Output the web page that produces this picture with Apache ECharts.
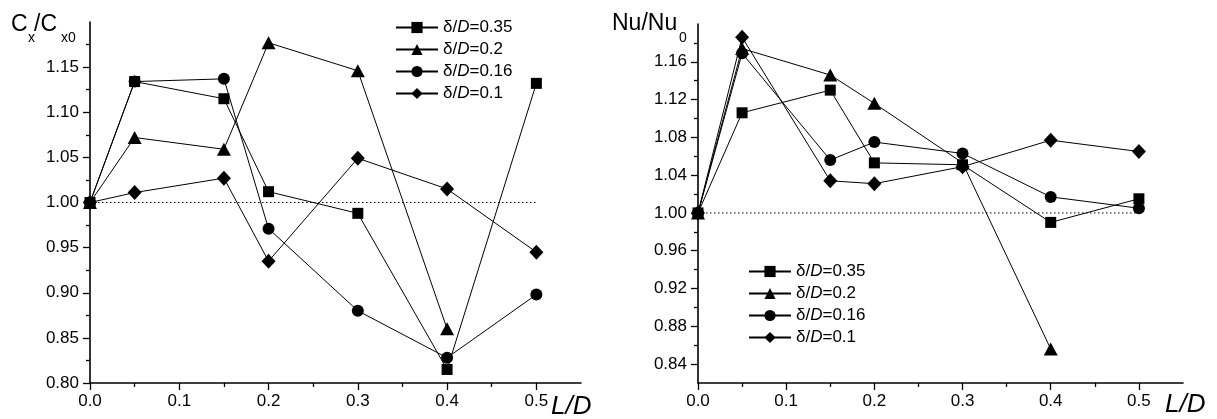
<!DOCTYPE html>
<html>
<head>
<meta charset="utf-8">
<script src="https://cdn.jsdelivr.net/npm/echarts@6/dist/echarts.min.js"></script>
<style>
  html, body { margin: 0; padding: 0; background: #fff; }
  #chart { width: 1217px; height: 419px; }
</style>
</head>
<body>
<div id="chart"></div>
<script>
// L/D positions shared by both panels
var ld = [0, 0.05, 0.15, 0.2, 0.3, 0.4, 0.5];
var names = ['δ/D=0.35', 'δ/D=0.2', 'δ/D=0.16', 'δ/D=0.1'];

// left panel: Cx/Cx0
var cxSquare   = [1.000, 1.134, 1.115, 1.012, 0.988, 0.815, 1.132];
var cxTriangle = [1.000, 1.072, 1.059, 1.177, 1.146, 0.860, null];
var cxCircle   = [1.000, 1.134, 1.137, 0.971, 0.880, 0.828, 0.898];
var cxDiamond  = [1.000, 1.011, 1.027, 0.935, 1.049, 1.015, 0.945];

// right panel: Nu/Nu0
var nuSquare   = [1.000, 1.106, 1.130, 1.053, 1.051, 0.990, 1.015];
var nuTriangle = [1.000, 1.174, 1.146, 1.116, 1.053, 0.856, null];
var nuCircle   = [1.000, 1.169, 1.056, 1.075, 1.063, 1.017, 1.005];
var nuDiamond  = [1.000, 1.186, 1.034, 1.031, 1.049, 1.077, 1.065];

// tick labels
var ldTicks = [0, 0.1, 0.2, 0.3, 0.4, 0.5];
var ldMinor = [0.05, 0.15, 0.25, 0.35, 0.45];
var cxTicks = [0.80, 0.85, 0.90, 0.95, 1.00, 1.05, 1.10, 1.15];
var cxMinor = [0.825, 0.875, 0.925, 0.975, 1.025, 1.075, 1.125, 1.175];
var nuTicks = [0.84, 0.88, 0.92, 0.96, 1.00, 1.04, 1.08, 1.12, 1.16];
var nuMinor = [0.86, 0.90, 0.94, 0.98, 1.02, 1.06, 1.10, 1.14, 1.18];

var FONT = 'Liberation Sans';
var symbols = ['rect', 'triangle', 'circle', 'diamond'];
var sizes = [11, [14, 13], 12, [14, 15]];

function pairs(vals) {
  var out = [];
  for (var i = 0; i < ld.length; i++) {
    if (vals[i] !== null) out.push([ld[i], vals[i]]);
  }
  return out;
}

function markSeries(vals, k, axisIdx) {
  return {
    name: names[k],
    type: 'line',
    xAxisIndex: axisIdx,
    yAxisIndex: axisIdx,
    data: pairs(vals),
    symbol: symbols[k],
    symbolSize: sizes[k],
    showAllSymbol: true,
    z: 10 - k,
    lineStyle: { color: '#000', width: 1 },
    itemStyle: { color: '#000' },
    animation: false
  };
}

function refLine(axisIdx) {
  return {
    type: 'line',
    xAxisIndex: axisIdx,
    yAxisIndex: axisIdx,
    data: [[0, 1], [0.5, 1]],
    symbol: 'none',
    silent: true,
    z: 1,
    lineStyle: { color: '#000', width: 1, type: [1.5, 2.5] },
    animation: false
  };
}

function mainX(g) {
  return {
    gridIndex: g, type: 'value', min: 0, max: 0.55,
    axisLine: { lineStyle: { color: '#000', width: 1.6 } },
    axisTick: { customValues: ldTicks, length: 7, lineStyle: { color: '#000', width: 1.3 } },
    axisLabel: { customValues: ldTicks, color: '#000', fontSize: 17, fontFamily: FONT, margin: 10,
      formatter: function (v) { return v.toFixed(1); } },
    splitLine: { show: false }
  };
}
function minorX(g) {
  return {
    gridIndex: g, type: 'value', min: 0, max: 0.55, position: 'bottom',
    axisLine: { show: false },
    axisTick: { customValues: ldMinor, length: 4, lineStyle: { color: '#000', width: 1.3 } },
    axisLabel: { show: false },
    splitLine: { show: false }
  };
}
function mainY(g, lo, hi, ticks, dec) {
  return {
    gridIndex: g, type: 'value', min: lo, max: hi, position: 'left',
    axisLine: { show: true, lineStyle: { color: '#000', width: 1.6 } },
    axisTick: { show: true, customValues: ticks, length: 7, lineStyle: { color: '#000', width: 1.3 } },
    axisLabel: { customValues: ticks, color: '#000', fontSize: 17, fontFamily: FONT, margin: 11,
      formatter: function (v) { return v.toFixed(dec); } },
    splitLine: { show: false }
  };
}
function minorY(g, lo, hi, ticks) {
  return {
    gridIndex: g, type: 'value', min: lo, max: hi, position: 'left',
    axisLine: { show: false },
    axisTick: { show: true, customValues: ticks, length: 4, lineStyle: { color: '#000', width: 1.3 } },
    axisLabel: { show: false },
    splitLine: { show: false }
  };
}

var legendRich = {
  a: { fontSize: 17, fontFamily: FONT, color: '#000' },
  b: { fontSize: 17, fontFamily: FONT, fontStyle: 'italic', color: '#000' }
};
function legendFmt(name) {
  return '{a|δ/}{b|D}{a|' + name.split('D')[1] + '}';
}
function legend(left, top) {
  return {
    data: names, orient: 'vertical', left: left, top: top,
    itemWidth: 42, itemHeight: 14, itemGap: 5,
    textStyle: { fontSize: 17, fontFamily: FONT, color: '#000', rich: legendRich },
    formatter: legendFmt,
    inactiveColor: '#000'
  };
}

// axis titles: main text and subscripts placed as separate pieces
function txt(x, y, s, size, italic) {
  return {
    type: 'text', x: x, y: y,
    style: {
      text: s, fill: '#000', verticalAlign: 'middle',
      font: (italic ? 'italic ' : '') + size + 'px "Liberation Sans"'
    }
  };
}

var chart = echarts.init(document.getElementById('chart'));
var option = {
  backgroundColor: '#fff',
  animation: false,
  grid: [
    { left: 90, top: 22, width: 491, height: 361 },
    { left: 698, top: 24, width: 485, height: 359 }
  ],
  xAxis: [mainX(0), mainX(1), minorX(0), minorX(1)],
  yAxis: [
    mainY(0, 0.80, 1.20, cxTicks, 2),
    mainY(1, 0.82, 1.20, nuTicks, 2),
    minorY(0, 0.80, 1.20, cxMinor),
    minorY(1, 0.82, 1.20, nuMinor)
  ],
  legend: [legend(390, 14), legend(743, 258)],
  graphic: { elements: [
    txt(11, 25, 'C', 23), txt(28, 38, 'x', 14), txt(34, 25, '/C', 23), txt(61, 38, 'x0', 14),
    txt(612, 24, 'Nu/Nu', 23), txt(679, 38, '0', 14),
    txt(551, 407, 'L/D', 26, true),
    txt(1165, 405, 'L/D', 26, true)
  ] },
  series: [
    refLine(0), refLine(1),
    markSeries(cxSquare, 0, 0), markSeries(cxTriangle, 1, 0),
    markSeries(cxCircle, 2, 0), markSeries(cxDiamond, 3, 0),
    markSeries(nuSquare, 0, 1), markSeries(nuTriangle, 1, 1),
    markSeries(nuCircle, 2, 1), markSeries(nuDiamond, 3, 1)
  ]
};
chart.setOption(option);
</script>
</body>
</html>
